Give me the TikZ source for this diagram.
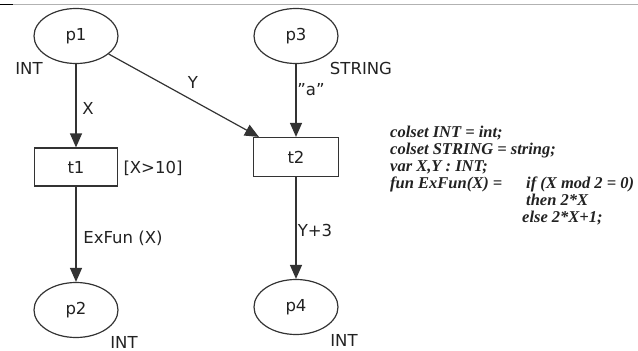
\documentclass[tikz,border=0pt]{standalone}
\usepackage{fontspec}
\setmainfont{DejaVu Sans}
\newfontfamily\tnr{Liberation Serif}
\usetikzlibrary{shapes.geometric,arrows.meta,calc}
\definecolor{ln}{HTML}{333333}
\definecolor{tx}{HTML}{222222}
\tikzset{
  place/.style={ellipse,draw=ln,line width=1.2pt,minimum width=84pt,minimum height=55pt,inner sep=0pt,font=\fontsize{16.5}{19}\selectfont,text=tx},
  trans/.style={rectangle,draw=ln,line width=1.2pt,minimum width=83pt,minimum height=38pt,inner sep=0pt,font=\fontsize{16.5}{19}\selectfont,text=tx},
  arc/.style={draw=ln,line width=1.2pt,-{Triangle[width=12pt,length=14pt]}},
  lab/.style={font=\fontsize{16.5}{19}\selectfont,text=tx,inner sep=0pt},
  decl/.style={font=\tnr\bfseries\itshape\fontsize{16.5}{19}\selectfont,text=tx,inner sep=0pt,anchor=base west}
}
\begin{document}
\begin{tikzpicture}[x=1pt,y=-1pt]
\useasboundingbox (0,0) rectangle (638,351);
\draw[line width=1pt,black] (0,4) -- (13,4);
\draw[line width=1pt,gray!60] (13,4) -- (638,4);
\node[place] (p1) at (76,36) {p1};
\node[place] (p3) at (296,36) {p3};
\node[place] (p2) at (76,310) {p2};
\node[place] (p4) at (296,307) {p4};
\node[trans] (t1) at (76,167) {t1};
\node[trans,minimum width=85pt,minimum height=39pt] (t2) at (296,157) {t2};
\coordinate (t2in) at ($(t2.north west)+(6,0)$);
\draw[arc] (p1) -- (t1);
\draw[arc] (p1) -- (t2in);
\draw[arc] (p3) -- (t2);
\draw[arc] (t1) -- (p2);
\draw[arc] (t2) -- (p4);
\node[lab] (lx) at (88,108) {X};
\node[lab] (ly) at (193,82) {Y};
\node[lab] (la) at (311,90) {"a"};
\node[lab] (lg) at (153,168) {[X>10]};
\node[lab] (lf) at (123,238) {ExFun (X)};
\node[lab] (ly3) at (315,230) {Y+3};
\node[lab] (c1) at (29,68) {INT};
\node[lab] (c2) at (124,342) {INT};
\node[lab] (c3) at (361,68) {STRING};
\node[lab] (c4) at (344,340) {INT};
\node[decl] (d1) at (390,137) {colset INT = int;};
\node[decl] (d2) at (390,154) {colset STRING = string;};
\node[decl] (d3) at (390,171) {var X,Y : INT;};
\node[decl] (d4) at (390,188) {fun ExFun(X) =};
\node[decl] (d5) at (526,188) {if (X mod 2 = 0)};
\node[decl] (d6) at (526,205) {then 2*X};
\node[decl] (d7) at (522,222) {else 2*X+1;};
\end{tikzpicture}
\end{document}
